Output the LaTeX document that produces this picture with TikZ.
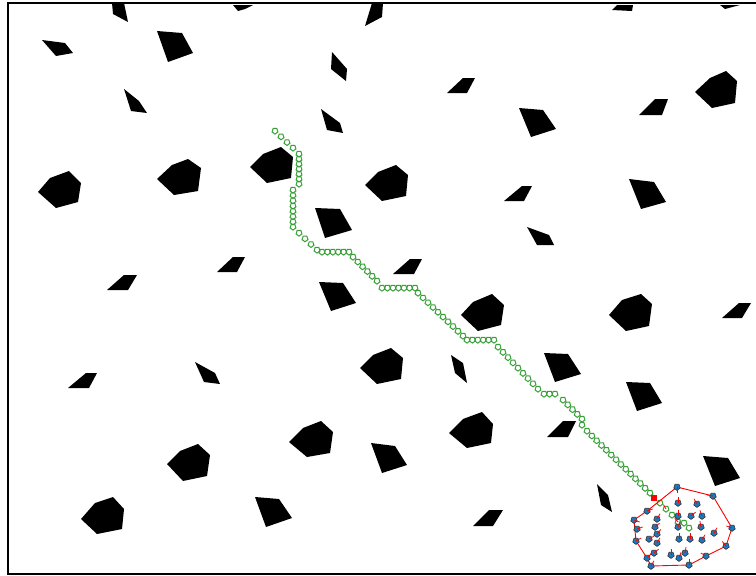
\documentclass[tikz,border=0pt]{standalone}
\begin{document}
\definecolor{pgreen}{RGB}{55,160,55}
\definecolor{agblue}{RGB}{30,120,190}
\begin{tikzpicture}[x=1pt,y=-1pt,
  obst/.style={fill=black},
  gm/.pic={\draw[pgreen,line width=1pt] (90:3.1)--(162:3.1)--(234:3.1)--(306:3.1)--(18:3.1)--cycle;},
  agent/.pic={\filldraw[fill=agblue,draw=black!80,line width=0.6pt] (90:3.4)--(162:3.4)--(234:3.4)--(306:3.4)--(18:3.4)--cycle;},
  vel/.style={red,line width=0.8pt},
  hull/.style={red,line width=0.9pt}]
\useasboundingbox (0,0) rectangle (756,576);
\fill[white] (0,0) rectangle (756,576);
\begin{scope}
\clip (9.3,4.5) rectangle (756,573.3);
% obstacles
\fill[obst] (112,3)--(124,3)--(128,22)--(113,14)--cycle;
\fill[obst] (233,5)--(253,5)--(245,9)--(238,11)--cycle;
\fill[obst] (42,40)--(65,43)--(73,53)--(56,56)--cycle;
\fill[obst] (157,31)--(182,33)--(193,53)--(168,62)--cycle;
\fill[obst] (124,89)--(139,101)--(147,113)--(131,111)--cycle;
\fill[obst] (372,3)--(383,3)--(382,17)--(365,26)--cycle;
\fill[obst] (332,52)--(347,69)--(346,81)--(331,69)--cycle;
\fill[obst] (447,93)--(463,78)--(475,78)--(467,93)--cycle;
\fill[obst] (321,109)--(340,123)--(343,133)--(327,130)--cycle;
\fill[obst] (612,10)--(617,5)--(633,5)--(632,11)--cycle;
\fill[obst] (720,5)--(740,5)--(725,9)--cycle;
\fill[obst] (519,108)--(543,110)--(556,129)--(531,137)--cycle;
\fill[obst] (639,115)--(655,99)--(668,99)--(662,115)--cycle;
\fill[obst] (695,92)--(710,78)--(726,71)--(737,81)--(735,103)--(712,108)--cycle;
\fill[obst] (38,192)--(50,178)--(69,171)--(81,183)--(78,202)--(56,208)--cycle;
\fill[obst] (157,179)--(172,165)--(188,159)--(201,168)--(198,191)--(174,195)--cycle;
\fill[obst] (250,167)--(263,154)--(281,147)--(293,157)--(291,178)--(267,183)--cycle;
\fill[obst] (365,185)--(378,172)--(396,165)--(408,175)--(406,196)--(382,201)--cycle;
\fill[obst] (315,208)--(340,209)--(352,230)--(325,238)--cycle;
\fill[obst] (107,290)--(124,275)--(137,275)--(128,290)--cycle;
\fill[obst] (217,272)--(233,257)--(245,257)--(237,272)--cycle;
\fill[obst] (68,388)--(86,373)--(97,373)--(89,388)--cycle;
\fill[obst] (195,362)--(215,373)--(220,384)--(204,382)--cycle;
\fill[obst] (167,464)--(180,451)--(198,444)--(210,455)--(207,476)--(183,481)--cycle;
\fill[obst] (81,519)--(95,503)--(113,497)--(124,509)--(122,529)--(97,534)--cycle;
\fill[obst] (255,497)--(279,499)--(292,518)--(266,527)--cycle;
\fill[obst] (289,442)--(303,428)--(321,421)--(333,432)--(330,453)--(307,457)--cycle;
\fill[obst] (371,443)--(395,446)--(407,465)--(382,473)--cycle;
\fill[obst] (449,433)--(463,419)--(482,412)--(493,424)--(491,443)--(467,448)--cycle;
\fill[obst] (473,526)--(489,510)--(503,510)--(493,526)--cycle;
\fill[obst] (504,201)--(522,186)--(532,186)--(524,201)--cycle;
\fill[obst] (629,179)--(654,182)--(666,202)--(641,209)--cycle;
\fill[obst] (527,227)--(549,235)--(554,245)--(537,245)--cycle;
\fill[obst] (609,315)--(622,300)--(641,294)--(652,304)--(649,326)--(626,331)--cycle;
\fill[obst] (722,318)--(739,303)--(751,303)--(742,318)--cycle;
\fill[obst] (393,274)--(410,259)--(422,259)--(414,274)--cycle;
\fill[obst] (319,282)--(343,283)--(356,303)--(331,311)--cycle;
\fill[obst] (461,315)--(473,302)--(492,294)--(504,305)--(501,325)--(478,331)--cycle;
\fill[obst] (360,368)--(373,355)--(391,348)--(403,358)--(401,379)--(377,384)--cycle;
\fill[obst] (451,355)--(463,363)--(467,383)--(455,373)--cycle;
\fill[obst] (544,353)--(568,354)--(581,374)--(555,382)--cycle;
\fill[obst] (626,382)--(650,383)--(662,403)--(637,411)--cycle;
\fill[obst] (547,437)--(563,421)--(576,421)--(568,437)--cycle;
\fill[obst] (597,484)--(608,495)--(612,512)--(601,505)--cycle;
\fill[obst] (703,456)--(728,458)--(740,478)--(715,486)--cycle;
\end{scope}
% green path markers
\foreach \ax/\ay/\bx/\by/\n in {275/131/293/148/3, 299/154/299/184/6, 293/190/293/227/7,
  299/233/317/250/3, 322/252/349/252/5, 353/257/377/281/5, 382/288/415/288/6,
  418/293/463/336/9, 467/340/494/340/5, 498/347/538/389/8, 544/394/555/394/2,
  563/400/582/419/4, 587/431/650/493/13, 660/503/672/515/2}{
  \foreach \i in {0,...,\n}{
    \pic at ({\ax+(\bx-\ax)*\i/\n},{\ay+(\by-\ay)*\i/\n}) {gm};
  }
}
\pic at (582,425) {gm};
\pic at (678,522) {gm};
\pic at (684,523) {gm};
\pic at (689,528) {gm};
% red leader
\fill[red] (651.3,495.3) rectangle (656.7,500.7);
% hull
\draw[hull] (677,487)--(713,496)--(732,528)--(726,546)--(706,556)--(689,565)--(651,566)--(647,558)--(636,541)--(634,520)--(647,511)--cycle;
% agents
\foreach \x/\y/\a in {677/487/90, 713/496/190, 732/528/200, 726/546/-130, 706/556/-150,
  689/565/-90, 651/566/-60, 647/558/-45, 636/541/-30, 634/520/20, 647/511/-20,
  637/529/-20, 657/519/-60, 655/527/-40, 657/534/-50, 649/539/-30, 657/543/-60,
  654/553/-40, 678/503/-90, 697/504/-120, 678/516/-90, 691/516/-40, 702/516/-110,
  678/527/-70, 701/527/-100, 714/533/-60, 679/539/-90, 690/539/-90, 702/540/-60,
  685/553/-80, 671/555/-90, 679/558/-70}{
  \pic at (\x,\y) {agent};
  \draw[vel] (\x,\y) -- ++(\a:6);
}
% red ticks in trailing markers
\draw[vel] (666,509) -- ++(-120:5);
\draw[vel] (678,522) -- ++(-130:5);
% frame
\draw[line width=2pt] (8.3,2.7) rectangle (770,574.3);
\end{tikzpicture}
\end{document}
